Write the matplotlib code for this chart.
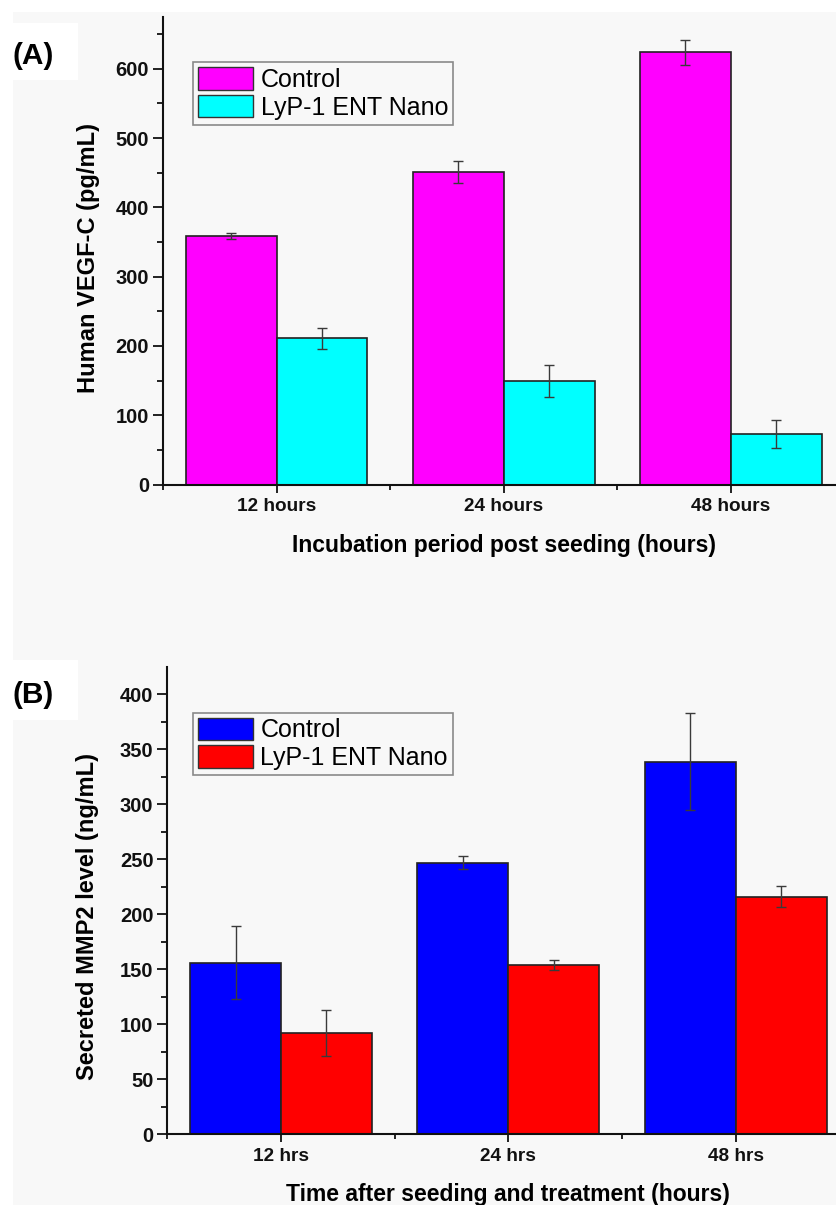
import matplotlib
matplotlib.use("Agg")
import matplotlib.pyplot as plt
from matplotlib.patches import Rectangle
import numpy as np

plt.rcParams['font.family'] = ['Liberation Sans', 'DejaVu Sans']

# ---- data ----
cats_a = ["12 hours", "24 hours", "48 hours"]
control_a = [359, 451, 624]
control_a_err = [4.5, 16.5, 18]
nano_a = [211, 150, 73]
nano_a_err = [15, 23, 19.5]

cats_b = ["12 hrs", "24 hrs", "48 hrs"]
control_b = [156, 247, 339]
control_b_err = [33, 6, 44]
nano_b = [92, 154, 216]
nano_b_err = [21, 4.5, 9.5]

series_names = ["Control", "LyP-1 ENT Nano"]

W, H = 836, 1205
DPI = 100
BG = '#f8f8f8'
fig = plt.figure(figsize=(W / DPI, H / DPI), dpi=DPI, facecolor='white')

def fx(px):
    return px / W

def fy(py):
    return 1 - py / H

# light gray background of the picture
fig.patches.append(Rectangle((fx(13), 0), 1, fy(12), transform=fig.transFigure,
                             facecolor=BG, edgecolor='none', zorder=-10))


def panel(left_px, right_px, top_px, zero_px, ymax, ymajor, cats, c1, e1, c2, e2,
          col1, col2, ylabel, xlabel, ylab_y, legend_xy, letter, letter_box):
    ax = fig.add_axes([fx(left_px), fy(zero_px), fx(right_px - left_px),
                       (zero_px - top_px) / H])
    ax.set_facecolor('none')
    x = np.arange(1, len(cats) + 1)
    ekw = dict(ecolor='#3a3a3a', elinewidth=1.0, capsize=3.8, capthick=1.0)
    b1 = ax.bar(x - 0.2, c1, width=0.4, color=col1, edgecolor='#222222',
                linewidth=1.2, yerr=e1, error_kw=ekw, zorder=2)
    b2 = ax.bar(x + 0.2, c2, width=0.4, color=col2, edgecolor='#222222',
                linewidth=1.2, yerr=e2, error_kw=ekw, zorder=2)
    ax.set_xlim(0.5, 3.5)
    ax.set_ylim(0, ymax)
    for s in ['top', 'right']:
        ax.spines[s].set_visible(False)
    for s in ['left', 'bottom']:
        ax.spines[s].set_linewidth(1.5)
        ax.spines[s].set_color('#111111')
    ax.set_xticks(x)
    ax.set_xticklabels(cats, fontsize=13.7, fontweight='bold')
    ax.set_xticks([0.5, 1.5, 2.5, 3.5], minor=True)
    yt = np.arange(0, ymax + 1, ymajor)
    ax.set_yticks(yt)
    ax.set_yticklabels([str(int(v)) for v in yt], fontsize=14.5, fontweight='bold')
    ax.set_yticks(np.arange(ymajor / 2, ymax, ymajor), minor=True)
    ax.tick_params(axis='y', which='major', direction='out', length=7, width=1.3,
                   pad=3, colors='#111111')
    ax.tick_params(axis='y', which='minor', direction='out', length=4.5, width=1.3,
                   colors='#111111')
    ax.tick_params(axis='x', which='major', direction='out', length=6, width=1.3,
                   pad=4, colors='#111111')
    ax.tick_params(axis='x', which='minor', direction='out', length=3.5, width=1.3,
                   colors='#111111')
    ax.set_ylabel(ylabel, fontsize=17, fontweight='bold', va='center')
    ax.yaxis.set_label_coords((88 - left_px) / (right_px - left_px), ylab_y)
    ax.set_xlabel(xlabel, fontsize=16.5, fontweight='bold', va='center')
    ax.xaxis.set_label_coords(0.5, -(60.5) / (zero_px - top_px))

    leg = ax.legend([b1, b2], series_names, loc='upper left',
                    bbox_to_anchor=(fx(legend_xy[0]), fy(legend_xy[1])),
                    bbox_transform=fig.transFigure, borderaxespad=0,
                    fontsize=18, handlelength=2.2, handleheight=1.0,
                    labelspacing=0.12, borderpad=0.2, handletextpad=0.3,
                    fancybox=False, framealpha=1, facecolor=BG,
                    edgecolor='#8a8a8a')
    leg.get_frame().set_linewidth(1.2)
    for p in leg.get_patches():
        p.set_edgecolor('#333333')
        p.set_linewidth(1.0)

    # panel letter on white box
    bx0, by0, bx1, by1 = letter_box
    fig.patches.append(Rectangle((fx(bx0), fy(by1)), fx(bx1 - bx0), (by1 - by0) / H,
                                 transform=fig.transFigure, facecolor='white',
                                 edgecolor='none', zorder=-5))
    fig.text(fx(13), fy((by0 + by1) / 2 + 5), letter, fontsize=21.5,
             fontweight='bold', ha='left', va='center')
    return ax


panel(163, 844.5, 16.7, 484.6, 675, 100, cats_a, control_a, control_a_err,
      nano_a, nano_a_err, '#ff00ff', '#00ffff', 'Human VEGF-C (pg/mL)',
      'Incubation period post seeding (hours)', 0.485, (193.3, 62.3), '(A)',
      (13, 23, 78, 80))

panel(167.3, 849.4, 667, 1134.3, 425, 50, cats_b, control_b, control_b_err,
      nano_b, nano_b_err, '#0000ff', '#ff0000', 'Secreted MMP2 level (ng/mL)',
      'Time after seeding and treatment (hours)', 0.467, (193, 712.5), '(B)',
      (13, 660, 78, 720))

fig.savefig('out.png', dpi=DPI, facecolor=fig.get_facecolor())
